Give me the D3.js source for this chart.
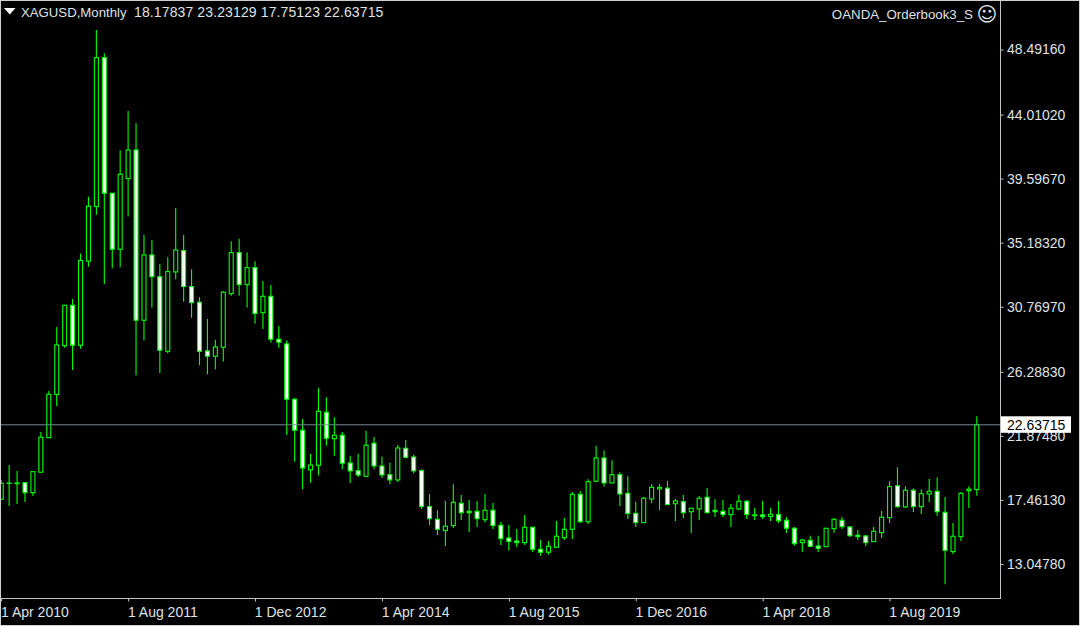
<!DOCTYPE html>
<html><head><meta charset="utf-8">
<style>html,body{margin:0;padding:0;background:#000;overflow:hidden}svg{display:block}text{font-family:"Liberation Sans",sans-serif;font-size:14px;fill:#dfe3e6}</style>
<script src="https://cdn.jsdelivr.net/npm/d3@7"></script>
</head><body><svg id="c" width="1080" height="626"></svg>
<script>
const symbolLabel = "XAGUSD,Monthly";
const ohlcLabel = "18.17837 23.23129 17.75123 22.63715";
const expertLabel = "OANDA_Orderbook3_S";
const lastPrice = 22.63715;
const priceTicks = [48.4916,44.0102,39.5967,35.1832,30.7697,26.2883,21.8748,17.4613,13.0478];
const timeTickIndex = [0,16,32,48,64,80,96,112];
const timeTickLabels = ["1 Apr 2010","1 Aug 2011","1 Dec 2012","1 Apr 2014","1 Aug 2015","1 Dec 2016","1 Apr 2018","1 Aug 2019"];
const opens = [17.51,18.60,18.63,18.65,17.96,19.37,21.75,24.73,28.09,30.87,
28.12,33.91,37.67,47.93,38.59,34.73,39.60,41.57,29.84,34.34,
32.84,27.70,33.17,34.64,32.16,31.08,27.73,27.36,27.98,31.67,
34.50,32.29,33.47,30.36,31.49,28.53,28.21,24.40,22.26,19.53,
19.85,23.50,21.68,21.92,20.01,19.48,19.09,21.37,19.80,19.20,
18.84,21.02,20.42,19.48,17.00,16.13,15.36,15.69,17.23,16.68,
16.68,16.10,16.75,15.72,14.84,14.63,14.52,15.58,14.06,13.86,
14.20,14.86,15.44,17.85,15.96,18.75,20.35,18.63,19.20,17.92,
16.54,15.90,17.53,18.22,18.27,17.20,17.34,16.65,16.84,17.65,
16.75,16.68,16.45,16.84,17.37,16.43,16.43,16.32,16.46,16.06,
15.51,14.52,14.68,14.29,14.24,15.48,16.06,15.60,15.03,14.98,
14.59,15.21,16.24,18.44,16.98,18.13,17.00,17.87,18.06,16.61,
13.90,14.93,18.10,18.17837];
const highs = [18.84,19.87,19.46,18.70,19.46,22.14,24.97,29.38,30.90,31.31,
34.43,38.34,49.84,48.24,38.61,41.55,44.26,43.41,35.72,35.37,
33.74,34.18,37.58,35.72,33.35,31.43,29.93,28.50,31.84,35.28,
35.46,34.50,33.91,32.55,32.27,29.45,28.44,24.49,23.04,20.63,
25.16,24.54,23.16,22.14,20.51,20.63,22.21,21.80,20.44,20.03,
21.25,21.59,20.58,19.57,17.87,16.75,17.39,18.54,17.80,17.46,
17.39,17.87,17.25,15.94,15.74,15.46,16.43,15.60,14.70,14.63,
16.01,16.22,18.01,18.08,18.89,21.20,20.86,20.19,19.37,19.09,
17.34,17.67,18.56,18.56,18.77,17.53,17.80,16.91,17.74,18.29,
17.51,17.46,17.18,17.80,17.46,16.91,17.39,16.91,17.39,16.29,
15.60,14.77,15.00,15.00,15.53,16.22,16.29,15.67,15.39,15.05,
15.60,16.70,18.75,19.71,18.40,18.27,18.20,18.91,19.02,17.67,
15.87,17.99,18.40,23.23129];
const lows = [17.46,17.05,17.18,17.32,17.74,19.35,21.73,23.94,27.95,26.42,
27.88,33.53,37.10,32.34,33.42,33.49,36.98,26.05,28.44,30.71,
26.21,27.57,32.67,31.12,30.02,26.74,26.12,26.46,26.99,31.52,
31.52,30.71,29.59,29.24,28.30,27.95,21.94,20.10,18.20,18.65,
19.16,21.20,20.51,19.57,18.63,19.04,19.08,19.57,18.98,18.54,
18.70,20.31,19.30,16.84,15.74,15.05,14.29,15.53,16.08,15.25,
15.60,15.90,15.46,14.36,13.97,14.22,14.36,13.88,13.62,13.69,
14.19,14.70,14.77,15.87,15.81,18.68,18.38,18.63,17.05,16.15,
15.60,15.89,17.23,16.77,17.12,16.01,16.20,15.19,16.08,16.56,
16.29,16.29,15.60,16.77,16.15,16.08,16.15,16.01,15.87,15.19,
14.31,13.88,14.26,13.88,14.22,15.19,15.46,14.91,14.70,14.29,
14.57,14.84,15.87,16.91,16.91,16.63,16.50,17.32,16.36,11.65,
13.74,14.63,16.91,17.75123];
const closes = [18.61,18.63,18.58,17.96,19.41,21.78,24.74,28.14,30.87,28.12,
33.95,37.70,47.93,38.59,34.73,39.90,41.57,29.84,34.34,32.84,
27.77,33.19,34.68,32.16,31.05,27.70,27.36,28.00,31.77,34.50,
32.29,33.47,30.30,31.49,28.53,28.33,24.40,22.26,19.66,19.87,
23.57,21.71,21.92,19.99,19.46,19.18,21.23,19.80,19.18,18.84,
21.04,20.40,19.46,17.00,16.17,15.44,15.65,17.30,16.58,16.58,
16.17,16.75,15.69,14.79,14.61,14.52,15.58,14.06,13.86,14.27,
14.96,15.44,17.85,15.96,18.72,20.35,18.63,19.20,17.87,16.52,
15.90,17.58,18.33,18.33,17.14,17.39,16.58,16.89,17.58,16.58,
16.65,16.45,16.89,17.37,16.45,16.38,16.31,16.47,16.03,15.51,
14.45,14.70,14.27,14.13,15.51,16.13,15.62,15.00,14.93,14.52,
15.30,16.27,18.38,17.00,18.13,17.00,17.89,18.06,16.65,13.99,
14.96,17.92,18.20,22.63715];

const svg = d3.select("#c");
const fg = "#00ff00", frameCol = "#c4c4c4", lineCol = "#778899";
const x = d3.scaleLinear().domain([0,123]).range([1.2,976.8]);
const y = d3.scaleLinear().domain([13.0478,48.4916]).range([564,49.5]);
const idx = d3.range(opens.length);
const frameR = 1000.5, frameB = 598.5;

// candles
const g = svg.append("g");
g.selectAll("line.w").data(idx).join("line").attr("class","w")
 .attr("x1",i=>x(i)).attr("x2",i=>x(i)).attr("y1",i=>y(highs[i])).attr("y2",i=>y(lows[i]))
 .attr("stroke",fg).attr("stroke-width",1.1);
g.selectAll("rect").data(idx).join("rect")
 .attr("x",i=>x(i)-2).attr("width",4)
 .attr("y",i=>y(Math.max(opens[i],closes[i])))
 .attr("height",i=>Math.abs(y(opens[i])-y(closes[i])))
 .attr("fill",i=>closes[i]>=opens[i]?"#000":"#fff")
 .attr("stroke",fg).attr("stroke-width",1.1);

// last price line
svg.append("line").attr("x1",0).attr("x2",frameR).attr("y1",y(lastPrice)).attr("y2",y(lastPrice))
 .attr("stroke",lineCol).attr("stroke-width",1);

// frames
svg.append("rect").attr("x",0.5).attr("y",0.5).attr("width",frameR-0.5).attr("height",frameB-0.5)
 .attr("fill","none").attr("stroke",frameCol).attr("stroke-width",1);
svg.append("rect").attr("x",0.5).attr("y",0.5).attr("width",1079).attr("height",625)
 .attr("fill","none").attr("stroke","#cfcfcf").attr("stroke-width",1);

// price axis
const py = svg.append("g").attr("transform",`translate(${frameR},0)`)
 .call(d3.axisRight(y).tickValues(priceTicks).tickSize(3).tickPadding(3.5).tickFormat(d3.format(".5f")));
py.select(".domain").remove();
py.selectAll(".tick line").attr("stroke",frameCol);
py.selectAll("text").attr("fill",null).attr("font-family",null).attr("font-size",null);

// time axis
const tx = svg.append("g").attr("transform",`translate(0,${frameB})`)
 .call(d3.axisBottom(x).tickValues(timeTickIndex).tickSize(3).tickPadding(5).tickFormat((d,i)=>timeTickLabels[i]));
tx.select(".domain").remove();
tx.selectAll(".tick line").attr("stroke",frameCol);
tx.selectAll("text").attr("fill",null).attr("font-family",null).attr("font-size",null)
 .attr("text-anchor","start").attr("dy",null).attr("x",-0.7).attr("y",18);

// last price label
svg.append("rect").attr("x",1001).attr("y",y(lastPrice)-8.5).attr("width",70).attr("height",16.5).attr("fill","#fff");
svg.append("text").attr("x",1007).attr("y",y(lastPrice)+5).style("fill","#000").text(d3.format(".5f")(lastPrice));

// header
svg.append("path").attr("d",d3.line()([[4,8],[15.5,8],[9.75,14.5]])+"Z").attr("fill","#fff");
svg.append("text").attr("x",21).attr("y",17).style("font-size","13.2px").text(symbolLabel);
svg.append("text").attr("x",134).attr("y",17).style("letter-spacing","0.12px").text(ohlcLabel);
svg.append("text").attr("x",973).attr("y",19).attr("text-anchor","end").style("font-size","13.3px").text(expertLabel);
svg.append("text").attr("x",987).attr("y",20.5).attr("text-anchor","middle").style("font-family","DejaVu Sans").style("font-size","20px").text("\u263A");
</script></body></html>
